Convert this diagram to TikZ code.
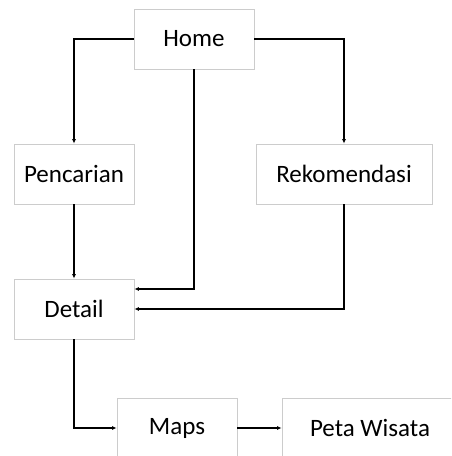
\documentclass[tikz,border=0pt]{standalone}
\usepackage{fontspec}
\setmainfont{Carlito}
\usetikzlibrary{arrows.meta}
\begin{document}
\begin{tikzpicture}[x=1pt,y=-1pt,
  box/.style={draw=black!20, line width=0.8pt, minimum height=60pt, inner sep=0pt, font=\fontsize{25}{28}\selectfont},
  conn/.style={line width=1.3pt, -{Latex[length=4.5pt,width=4pt]}}]
\useasboundingbox (0,0) rectangle (451,456);
\clip (0,0) rectangle (451,456);
\fill[white] (0,0) rectangle (451,456);
\node[box, minimum width=120pt] (home) at (194,39) {Home};
\node[box, minimum width=120pt] (pen) at (74,174) {Pencarian};
\node[box, minimum width=176pt] (rek) at (344,174) {Rekomendasi};
\node[box, minimum width=120pt] (det) at (74,309) {Detail};
\node[box, minimum width=120pt] (maps) at (177,428) {Maps};
\node[box, minimum width=176pt] (peta) at (370,428) {Peta Wisata};
\draw[conn] (home.west) -| (pen.north);
\draw[conn] (home.east) -| (rek.north);
\draw[conn] (pen.south) -- (det.north);
\draw[conn] (home.south) |- ([yshift=20pt]det.east);
\draw[conn] (rek.south) |- (det.east);
\draw[conn] (det.south) |- (maps.west);
\draw[conn] (maps.east) -- (peta.west);
\end{tikzpicture}
\end{document}
